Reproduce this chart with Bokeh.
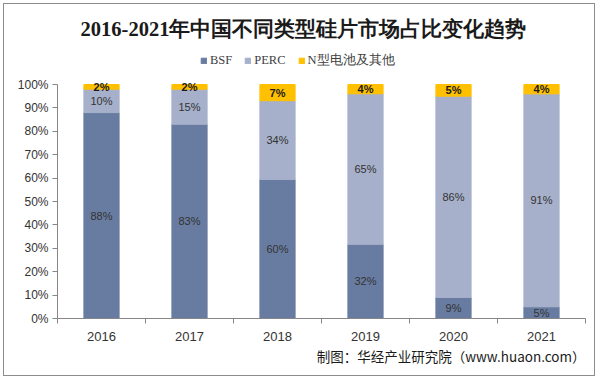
from bokeh.plotting import figure
from bokeh.models import (ColumnDataSource, Range1d, FixedTicker, Legend, LegendItem, Label, Title)
from bokeh.core.properties import value
from bokeh.embed import file_html
from bokeh.resources import INLINE

years = ["2016", "2017", "2018", "2019", "2020", "2021"]
bsf = [88, 83, 60, 32, 9, 5]
perc = [10, 15, 34, 65, 86, 91]
ntype = [2, 2, 7, 4, 5, 4]
series_names = ["BSF", "PERC", "N型电池及其他"]
y_ticks = [0, 10, 20, 30, 40, 50, 60, 70, 80, 90, 100]
title_text = "2016-2021年中国不同类型硅片市场占比变化趋势"
footer_text = "制图：华经产业研究院（www.huaon.com）"

colors = ["#687CA2", "#A6B0CA", "#FFC000"]

x = [i + 0.5 for i in range(len(years))]
totals = [a + b + c for a, b, c in zip(bsf, perc, ntype)]
# 100% stacked columns
h1 = [a / t * 100 for a, t in zip(bsf, totals)]
h2 = [b / t * 100 for b, t in zip(perc, totals)]
h3 = [c / t * 100 for c, t in zip(ntype, totals)]
b1 = [0] * len(x)
t1 = h1
t2 = [p + q for p, q in zip(t1, h2)]
t3 = [p + q for p, q in zip(t2, h3)]

src = ColumnDataSource(dict(
    x=x, b1=b1, t1=t1, t2=t2, t3=t3,
    m1=[(p + q) / 2 for p, q in zip(b1, t1)],
    m2=[(p + q) / 2 for p, q in zip(t1, t2)],
    m3=[(p + q) / 2 for p, q in zip(t2, t3)],
    l1=[f"{v}%" for v in bsf],
    l2=[f"{v}%" for v in perc],
    l3=[f"{v}%" for v in ntype],
))

W, H = 598, 379
BL, BR, BT, BB = 57, 13, 0, 61
FW, FH = W - BL - BR, H - BT - BB
PLOT_TOP = 84  # pixel row of 100% inside the figure
y_end = 100 * FH / (FH - PLOT_TOP)

p = figure(width=W, height=H, output_backend="svg", toolbar_location=None,
           x_range=Range1d(0, len(years)), y_range=Range1d(0, y_end),
           min_border_left=BL, min_border_right=BR, min_border_top=BT, min_border_bottom=BB)
p.title.visible = False
p.border_fill_alpha = 0
p.background_fill_alpha = 0
p.styles = {"outline": "1px solid #8c8c8c", "outline-offset": "-4px",
            "box-shadow": "inset 0 0 0 3px #ffffff, inset 0 0 0 4px #8c8c8c"}

r1 = p.vbar(x="x", bottom="b1", top="t1", width=0.4, color=colors[0], source=src)
r2 = p.vbar(x="x", bottom="t1", top="t2", width=0.4, color=colors[1], source=src)
r3 = p.vbar(x="x", bottom="t2", top="t3", width=0.4, color=colors[2], source=src)

lab_font = value("Liberation Sans")
p.text(x="x", y="m1", text="l1", source=src, text_align="center", text_baseline="middle",
       text_font=lab_font, text_font_size="11px", text_color="#333333")
p.text(x="x", y="m2", text="l2", source=src, text_align="center", text_baseline="middle",
       text_font=lab_font, text_font_size="11px", text_color="#333333")
p.text(x="x", y="m3", text="l3", source=src, text_align="center", text_baseline="middle",
       text_font=lab_font, text_font_size="11px", text_color="#1a1a1a", text_font_style="bold")

legend = Legend(items=[LegendItem(label=series_names[0], renderers=[r1]),
                       LegendItem(label=series_names[1], renderers=[r2]),
                       LegendItem(label=series_names[2], renderers=[r3])],
                orientation="horizontal", location=(143, FH - 62 - 7),
                glyph_width=7, glyph_height=7, label_height=14,
                label_text_font="Liberation Serif",
                label_text_font_size="12.5px", label_text_color="#404040",
                spacing=12, label_standoff=3, padding=0, margin=0,
                border_line_color=None, background_fill_alpha=0)
p.add_layout(legend, "center")

p.add_layout(Label(x=246, y=FH - 28, x_units="screen", y_units="screen", text=title_text,
                   text_align="center", text_baseline="middle",
                   text_font="Liberation Serif", text_font_size="20.5px",
                   text_font_style="bold", text_color="#1a1a1a"))

footer = Title(text=footer_text, align="right",
               text_font="Noto Sans CJK SC", text_font_size="13.5px",
               text_font_style="normal", text_color="#1a1a1a", offset=0, standoff=0)
p.add_layout(footer, "below")

p.xgrid.visible = False
p.ygrid.visible = False
p.outline_line_color = None

p.yaxis.ticker = FixedTicker(ticks=y_ticks)
p.yaxis.bounds = (y_ticks[0], y_ticks[-1])
p.yaxis.major_label_overrides = {v: f"{v}%" for v in y_ticks}
p.yaxis.minor_tick_line_color = None
p.yaxis.major_tick_in = 0
p.yaxis.major_tick_out = 5
p.yaxis.axis_line_color = "#868686"
p.yaxis.major_tick_line_color = "#868686"
p.yaxis.major_label_text_font = "Liberation Sans"
p.yaxis.major_label_text_font_size = "12px"
p.yaxis.major_label_text_color = "#333333"
p.yaxis.major_label_standoff = 4

p.xaxis.ticker = FixedTicker(ticks=x, minor_ticks=list(range(len(years) + 1)))
p.xaxis.major_label_overrides = {xv: y for xv, y in zip(x, years)}
p.xaxis.major_tick_in = 0
p.xaxis.major_tick_out = 0
p.xaxis.minor_tick_in = 0
p.xaxis.minor_tick_out = 5
p.xaxis.axis_line_color = "#868686"
p.xaxis.minor_tick_line_color = "#868686"
p.xaxis.major_label_text_font = "Liberation Sans"
p.xaxis.major_label_text_font_size = "13px"
p.xaxis.major_label_text_color = "#333333"
p.xaxis.major_label_standoff = 8

open("out.html", "w").write(file_html(p, INLINE))
